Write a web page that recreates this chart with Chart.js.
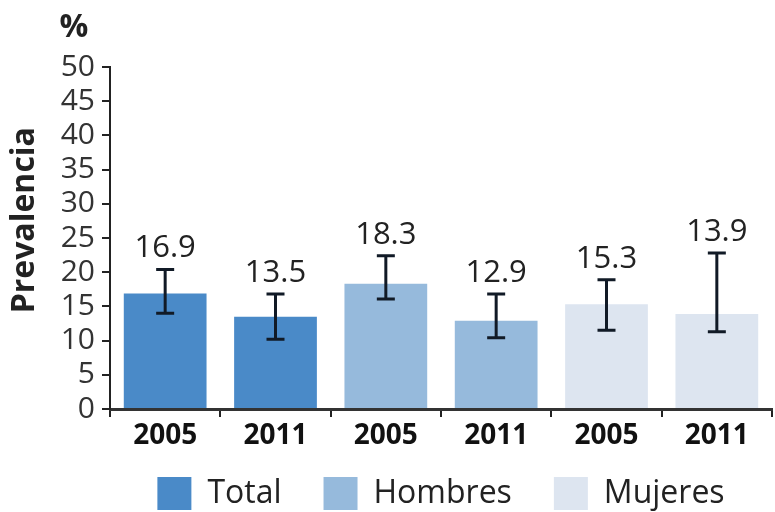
<!DOCTYPE html>
<html>
<head>
<meta charset="utf-8">
<script src="https://cdn.jsdelivr.net/npm/chart.js@4"></script>
<style>
  html, body { margin: 0; padding: 0; background: #fff; }
</style>
</head>
<body>
<canvas id="chart" width="775" height="512"></canvas>
<script>
"use strict";

// Chart data
var years = ["2005", "2011", "2005", "2011", "2005", "2011"];
var groups = ["Total", "Hombres", "Mujeres"];
var groupOf = [0, 0, 1, 1, 2, 2];
var prevalence = [16.9, 13.5, 18.3, 12.9, 15.3, 13.9];
var lowerCI = [14.0, 10.2, 16.1, 10.4, 11.5, 11.3];
var upperCI = [20.4, 16.8, 22.4, 16.8, 18.9, 22.8];
var groupColors = ["rgb(74, 138, 200)", "rgb(150, 186, 220)", "rgb(221, 229, 240)"];

var fontFamily = "'Open Sans', 'DejaVu Sans', sans-serif";

// Error bars and value labels
var errorBarPlugin = {
    id: "errorBars",
    afterDatasetsDraw: function(chart) {
        var ctx = chart.ctx;
        var yScale = chart.scales.y;

        ctx.save();
        for (let i = 0; i < prevalence.length; i++) {
            var bar = chart.getDatasetMeta(groupOf[i]).data[i];
            var x = bar.x;
            var yLow = yScale.getPixelForValue(lowerCI[i]);
            var yHigh = yScale.getPixelForValue(upperCI[i]);

            ctx.strokeStyle = "#111a26";
            ctx.lineWidth = 3;
            ctx.beginPath();
            ctx.moveTo(x, yLow);
            ctx.lineTo(x, yHigh);
            ctx.moveTo(x - 9, yLow);
            ctx.lineTo(x + 9, yLow);
            ctx.moveTo(x - 9, yHigh);
            ctx.lineTo(x + 9, yHigh);
            ctx.stroke();

            // Value label
            ctx.fillStyle = "#222";
            ctx.font = "31px " + fontFamily;
            ctx.textAlign = "center";
            ctx.textBaseline = "alphabetic";
            ctx.fillText(prevalence[i].toFixed(1), x, yHigh - 12);
        }
        ctx.restore();
    }
};

// Axis titles
var axisTitlePlugin = {
    id: "axisTitles",
    afterDraw: function(chart) {
        var ctx = chart.ctx;
        var area = chart.chartArea;

        ctx.save();
        ctx.fillStyle = "#222";
        ctx.font = "bold 32px " + fontFamily;
        ctx.textAlign = "center";
        ctx.textBaseline = "alphabetic";
        ctx.fillText("%", area.left - 36, area.top - 30);

        ctx.translate(25, area.top + (area.bottom - area.top) * 0.448);
        ctx.rotate(-Math.PI / 2);
        ctx.textBaseline = "middle";
        ctx.font = "bold 32px " + fontFamily;
        ctx.fillText("Prevalencia", 0, 0);
        ctx.restore();
    }
};

function buildDatasets() {
    var datasets = [];
    for (let g = 0; g < groups.length; g++) {
        var values = [];
        for (let i = 0; i < prevalence.length; i++) {
            values.push(groupOf[i] === g ? prevalence[i] : null);
        }
        datasets.push({
            label: groups[g],
            data: values,
            backgroundColor: groupColors[g],
            borderWidth: 0,
            skipNull: true,
            categoryPercentage: 0.75,
            barPercentage: 1
        });
    }
    return datasets;
}

var config = {
    type: "bar",
    data: {
        labels: years,
        datasets: buildDatasets()
    },
    options: {
        responsive: false,
        animation: false,
        devicePixelRatio: 1,
        layout: {
            padding: { left: 50, top: 67, right: 3, bottom: 0 }
        },
        plugins: {
            legend: {
                position: "bottom",
                fullSize: false,
                maxHeight: 77,
                labels: {
                    boxWidth: 34,
                    boxHeight: 33,
                    padding: 42,
                    color: "#222",
                    font: { family: fontFamily, size: 32 }
                }
            },
            title: { display: false },
            tooltip: { enabled: false }
        },
        scales: {
            x: {
                grid: {
                    drawOnChartArea: false,
                    tickLength: 8,
                    color: "#222",
                    lineWidth: 2,
                    offset: true
                },
                border: { color: "#333", width: 3 },
                ticks: {
                    // mirrored with negative padding so labels sit below the axis without clipping
                    mirror: true,
                    padding: -44,
                    color: "#111",
                    maxRotation: 0,
                    autoSkip: false,
                    font: { family: fontFamily, size: 28, weight: "bold" }
                },
                afterFit: function(scale) { scale.height = 26; }
            },
            y: {
                min: 0,
                max: 50,
                grid: {
                    drawOnChartArea: false,
                    tickLength: 8,
                    color: "#222",
                    lineWidth: 2
                },
                border: { color: "#222", width: 2 },
                ticks: {
                    stepSize: 5,
                    autoSkip: false,
                    padding: 7,
                    color: "#333",
                    font: { family: fontFamily, size: 30, lineHeight: 1 }
                },
                afterFit: function(scale) { scale.width = 60; }
            }
        }
    },
    plugins: [errorBarPlugin, axisTitlePlugin]
};

window.onload = function() {
    var ctx = document.getElementById("chart").getContext("2d");
    new Chart(ctx, config);
};
</script>
</body>
</html>
